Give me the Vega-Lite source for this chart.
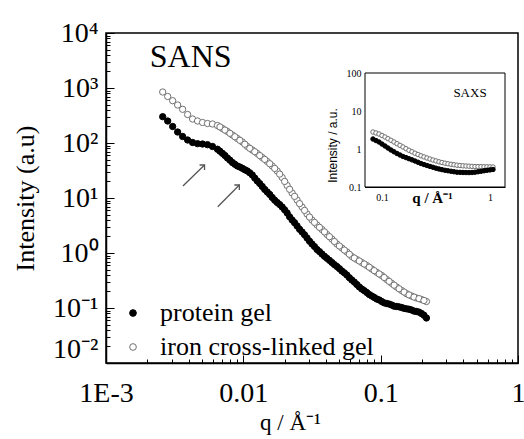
{
  "$schema": "https://vega.github.io/schema/vega-lite/v6.json",
  "width": 412,
  "height": 330,
  "autosize": {"type": "none"},
  "padding": {"left": 106, "top": 33, "right": 6, "bottom": 76},
  "background": "white",
  "datasets": {
    "sans": [
      {"sample": "iron cross-linked gel", "q": 0.002588, "I": 845.9},
      {"sample": "iron cross-linked gel", "q": 0.002813, "I": 700.6},
      {"sample": "iron cross-linked gel", "q": 0.003058, "I": 587.6},
      {"sample": "iron cross-linked gel", "q": 0.003324, "I": 490.9},
      {"sample": "iron cross-linked gel", "q": 0.003613, "I": 410.0},
      {"sample": "iron cross-linked gel", "q": 0.003928, "I": 329.7},
      {"sample": "iron cross-linked gel", "q": 0.004270, "I": 273.2},
      {"sample": "iron cross-linked gel", "q": 0.004641, "I": 251.2},
      {"sample": "iron cross-linked gel", "q": 0.005045, "I": 235.9},
      {"sample": "iron cross-linked gel", "q": 0.005484, "I": 226.2},
      {"sample": "iron cross-linked gel", "q": 0.005961, "I": 221.6},
      {"sample": "iron cross-linked gel", "q": 0.006480, "I": 208.1},
      {"sample": "iron cross-linked gel", "q": 0.007044, "I": 183.5},
      {"sample": "iron cross-linked gel", "q": 0.007656, "I": 161.9},
      {"sample": "iron cross-linked gel", "q": 0.008323, "I": 139.8},
      {"sample": "iron cross-linked gel", "q": 0.009047, "I": 120.7},
      {"sample": "iron cross-linked gel", "q": 0.009834, "I": 104.3},
      {"sample": "iron cross-linked gel", "q": 0.01069, "I": 86.4},
      {"sample": "iron cross-linked gel", "q": 0.01162, "I": 74.6},
      {"sample": "iron cross-linked gel", "q": 0.01263, "I": 64.4},
      {"sample": "iron cross-linked gel", "q": 0.01373, "I": 54.5},
      {"sample": "iron cross-linked gel", "q": 0.01493, "I": 46.1},
      {"sample": "iron cross-linked gel", "q": 0.01623, "I": 38.2},
      {"sample": "iron cross-linked gel", "q": 0.01764, "I": 31.0},
      {"sample": "iron cross-linked gel", "q": 0.01917, "I": 23.6},
      {"sample": "iron cross-linked gel", "q": 0.02084, "I": 16.9},
      {"sample": "iron cross-linked gel", "q": 0.02265, "I": 12.33},
      {"sample": "iron cross-linked gel", "q": 0.02462, "I": 9.20},
      {"sample": "iron cross-linked gel", "q": 0.02677, "I": 6.86},
      {"sample": "iron cross-linked gel", "q": 0.02909, "I": 5.12},
      {"sample": "iron cross-linked gel", "q": 0.03162, "I": 3.98},
      {"sample": "iron cross-linked gel", "q": 0.03438, "I": 3.23},
      {"sample": "iron cross-linked gel", "q": 0.03737, "I": 2.675},
      {"sample": "iron cross-linked gel", "q": 0.04062, "I": 2.17},
      {"sample": "iron cross-linked gel", "q": 0.04415, "I": 1.797},
      {"sample": "iron cross-linked gel", "q": 0.04799, "I": 1.458},
      {"sample": "iron cross-linked gel", "q": 0.05217, "I": 1.233},
      {"sample": "iron cross-linked gel", "q": 0.05671, "I": 1.043},
      {"sample": "iron cross-linked gel", "q": 0.06164, "I": 0.864},
      {"sample": "iron cross-linked gel", "q": 0.06701, "I": 0.762},
      {"sample": "iron cross-linked gel", "q": 0.07284, "I": 0.672},
      {"sample": "iron cross-linked gel", "q": 0.07917, "I": 0.593},
      {"sample": "iron cross-linked gel", "q": 0.08607, "I": 0.512},
      {"sample": "iron cross-linked gel", "q": 0.09355, "I": 0.4457},
      {"sample": "iron cross-linked gel", "q": 0.1017, "I": 0.390},
      {"sample": "iron cross-linked gel", "q": 0.1105, "I": 0.330},
      {"sample": "iron cross-linked gel", "q": 0.1202, "I": 0.2812},
      {"sample": "iron cross-linked gel", "q": 0.1306, "I": 0.2408},
      {"sample": "iron cross-linked gel", "q": 0.1420, "I": 0.2081},
      {"sample": "iron cross-linked gel", "q": 0.1543, "I": 0.1820},
      {"sample": "iron cross-linked gel", "q": 0.1677, "I": 0.1653},
      {"sample": "iron cross-linked gel", "q": 0.1823, "I": 0.1520},
      {"sample": "iron cross-linked gel", "q": 0.1982, "I": 0.1427},
      {"sample": "iron cross-linked gel", "q": 0.2154, "I": 0.1313},
      {"sample": "iron cross-linked gel", "q": 0.006756, "I": 196},
      {"sample": "iron cross-linked gel", "q": 0.007344, "I": 172},
      {"sample": "iron cross-linked gel", "q": 0.007982, "I": 150},
      {"sample": "iron cross-linked gel", "q": 0.008677, "I": 130},
      {"sample": "iron cross-linked gel", "q": 0.009432, "I": 112},
      {"sample": "iron cross-linked gel", "q": 0.010253, "I": 95},
      {"sample": "iron cross-linked gel", "q": 0.011145, "I": 80},
      {"sample": "iron cross-linked gel", "q": 0.012115, "I": 69.5},
      {"sample": "iron cross-linked gel", "q": 0.013168, "I": 59.0},
      {"sample": "iron cross-linked gel", "q": 0.014315, "I": 50.3},
      {"sample": "iron cross-linked gel", "q": 0.015566, "I": 42.0},
      {"sample": "iron cross-linked gel", "q": 0.016921, "I": 34.5},
      {"sample": "iron cross-linked gel", "q": 0.018391, "I": 27.2},
      {"sample": "iron cross-linked gel", "q": 0.019986, "I": 20.0},
      {"sample": "iron cross-linked gel", "q": 0.021728, "I": 14.4},
      {"sample": "iron cross-linked gel", "q": 0.023615, "I": 10.7},
      {"sample": "iron cross-linked gel", "q": 0.025669, "I": 7.9},
      {"sample": "iron cross-linked gel", "q": 0.02791, "I": 5.95},
      {"sample": "iron cross-linked gel", "q": 0.030329, "I": 4.5},
      {"sample": "iron cross-linked gel", "q": 0.032967, "I": 3.6},
      {"sample": "iron cross-linked gel", "q": 0.035844, "I": 2.93},
      {"sample": "iron cross-linked gel", "q": 0.038962, "I": 2.42},
      {"sample": "iron cross-linked gel", "q": 0.04235, "I": 1.98},
      {"sample": "iron cross-linked gel", "q": 0.04603, "I": 1.62},
      {"sample": "iron cross-linked gel", "q": 0.050034, "I": 1.34},
      {"sample": "iron cross-linked gel", "q": 0.054392, "I": 1.13},
      {"sample": "iron cross-linked gel", "q": 0.059125, "I": 0.95},
      {"sample": "iron cross-linked gel", "q": 0.064265, "I": 0.81},
      {"sample": "iron cross-linked gel", "q": 0.069864, "I": 0.716},
      {"sample": "iron cross-linked gel", "q": 0.075942, "I": 0.63},
      {"sample": "iron cross-linked gel", "q": 0.082542, "I": 0.552},
      {"sample": "iron cross-linked gel", "q": 0.089736, "I": 0.478},
      {"sample": "iron cross-linked gel", "q": 0.097534, "I": 0.416},
      {"sample": "iron cross-linked gel", "q": 0.10603, "I": 0.359},
      {"sample": "iron cross-linked gel", "q": 0.11521, "I": 0.305},
      {"sample": "iron cross-linked gel", "q": 0.12532, "I": 0.260},
      {"sample": "iron cross-linked gel", "q": 0.13616, "I": 0.224},
      {"sample": "iron cross-linked gel", "q": 0.14805, "I": 0.195},
      {"sample": "iron cross-linked gel", "q": 0.16087, "I": 0.173},
      {"sample": "iron cross-linked gel", "q": 0.17484, "I": 0.158},
      {"sample": "iron cross-linked gel", "q": 0.19006, "I": 0.148},
      {"sample": "iron cross-linked gel", "q": 0.20664, "I": 0.137},
      {"sample": "protein gel", "q": 0.002588, "I": 300.8},
      {"sample": "protein gel", "q": 0.002813, "I": 251.2},
      {"sample": "protein gel", "q": 0.003058, "I": 199.5},
      {"sample": "protein gel", "q": 0.003324, "I": 158.5},
      {"sample": "protein gel", "q": 0.003613, "I": 131.3},
      {"sample": "protein gel", "q": 0.003928, "I": 113.4},
      {"sample": "protein gel", "q": 0.004270, "I": 102.1},
      {"sample": "protein gel", "q": 0.004641, "I": 97.1},
      {"sample": "protein gel", "q": 0.005045, "I": 95.9},
      {"sample": "protein gel", "q": 0.005484, "I": 93.1},
      {"sample": "protein gel", "q": 0.005961, "I": 86.4},
      {"sample": "protein gel", "q": 0.006480, "I": 77.1},
      {"sample": "protein gel", "q": 0.007044, "I": 65.0},
      {"sample": "protein gel", "q": 0.007656, "I": 53.4},
      {"sample": "protein gel", "q": 0.008323, "I": 44.2},
      {"sample": "protein gel", "q": 0.009047, "I": 38.2},
      {"sample": "protein gel", "q": 0.009834, "I": 34.7},
      {"sample": "protein gel", "q": 0.01069, "I": 31.0},
      {"sample": "protein gel", "q": 0.01162, "I": 26.2},
      {"sample": "protein gel", "q": 0.01263, "I": 20.4},
      {"sample": "protein gel", "q": 0.01373, "I": 16.2},
      {"sample": "protein gel", "q": 0.01493, "I": 12.86},
      {"sample": "protein gel", "q": 0.01623, "I": 10.21},
      {"sample": "protein gel", "q": 0.01764, "I": 8.28},
      {"sample": "protein gel", "q": 0.01917, "I": 6.86},
      {"sample": "protein gel", "q": 0.02084, "I": 5.34},
      {"sample": "protein gel", "q": 0.02265, "I": 3.98},
      {"sample": "protein gel", "q": 0.02462, "I": 3.10},
      {"sample": "protein gel", "q": 0.02677, "I": 2.41},
      {"sample": "protein gel", "q": 0.02909, "I": 1.874},
      {"sample": "protein gel", "q": 0.03162, "I": 1.458},
      {"sample": "protein gel", "q": 0.03438, "I": 1.158},
      {"sample": "protein gel", "q": 0.03737, "I": 0.959},
      {"sample": "protein gel", "q": 0.04062, "I": 0.801},
      {"sample": "protein gel", "q": 0.04415, "I": 0.672},
      {"sample": "protein gel", "q": 0.04799, "I": 0.568},
      {"sample": "protein gel", "q": 0.05217, "I": 0.471},
      {"sample": "protein gel", "q": 0.05671, "I": 0.398},
      {"sample": "protein gel", "q": 0.06164, "I": 0.323},
      {"sample": "protein gel", "q": 0.06701, "I": 0.2675},
      {"sample": "protein gel", "q": 0.07284, "I": 0.2216},
      {"sample": "protein gel", "q": 0.07917, "I": 0.1913},
      {"sample": "protein gel", "q": 0.08607, "I": 0.1653},
      {"sample": "protein gel", "q": 0.09355, "I": 0.1458},
      {"sample": "protein gel", "q": 0.1017, "I": 0.1313},
      {"sample": "protein gel", "q": 0.1105, "I": 0.1207},
      {"sample": "protein gel", "q": 0.1202, "I": 0.1134},
      {"sample": "protein gel", "q": 0.1306, "I": 0.1065},
      {"sample": "protein gel", "q": 0.1420, "I": 0.1021},
      {"sample": "protein gel", "q": 0.1543, "I": 0.0967},
      {"sample": "protein gel", "q": 0.1677, "I": 0.0920},
      {"sample": "protein gel", "q": 0.1823, "I": 0.0864},
      {"sample": "protein gel", "q": 0.1982, "I": 0.0794},
      {"sample": "protein gel", "q": 0.2154, "I": 0.0658},
      {"sample": "protein gel", "q": 0.006756, "I": 71.0},
      {"sample": "protein gel", "q": 0.007344, "I": 59.2},
      {"sample": "protein gel", "q": 0.007982, "I": 48.8},
      {"sample": "protein gel", "q": 0.008677, "I": 41.0},
      {"sample": "protein gel", "q": 0.009432, "I": 36.6},
      {"sample": "protein gel", "q": 0.010253, "I": 32.6},
      {"sample": "protein gel", "q": 0.011145, "I": 28.7},
      {"sample": "protein gel", "q": 0.012115, "I": 23.0},
      {"sample": "protein gel", "q": 0.013168, "I": 18.3},
      {"sample": "protein gel", "q": 0.014315, "I": 14.3},
      {"sample": "protein gel", "q": 0.015566, "I": 11.6},
      {"sample": "protein gel", "q": 0.016921, "I": 9.1},
      {"sample": "protein gel", "q": 0.018391, "I": 7.6},
      {"sample": "protein gel", "q": 0.019986, "I": 6.1},
      {"sample": "protein gel", "q": 0.021728, "I": 4.55},
      {"sample": "protein gel", "q": 0.023615, "I": 3.55},
      {"sample": "protein gel", "q": 0.025669, "I": 2.70},
      {"sample": "protein gel", "q": 0.02791, "I": 2.14},
      {"sample": "protein gel", "q": 0.030329, "I": 1.64},
      {"sample": "protein gel", "q": 0.032967, "I": 1.31},
      {"sample": "protein gel", "q": 0.035844, "I": 1.06},
      {"sample": "protein gel", "q": 0.038962, "I": 0.872},
      {"sample": "protein gel", "q": 0.04235, "I": 0.737},
      {"sample": "protein gel", "q": 0.04603, "I": 0.615},
      {"sample": "protein gel", "q": 0.050034, "I": 0.52},
      {"sample": "protein gel", "q": 0.054392, "I": 0.436},
      {"sample": "protein gel", "q": 0.059125, "I": 0.356},
      {"sample": "protein gel", "q": 0.064265, "I": 0.296},
      {"sample": "protein gel", "q": 0.069864, "I": 0.242},
      {"sample": "protein gel", "q": 0.075942, "I": 0.207},
      {"sample": "protein gel", "q": 0.082542, "I": 0.176},
      {"sample": "protein gel", "q": 0.089736, "I": 0.156},
      {"sample": "protein gel", "q": 0.097534, "I": 0.140},
      {"sample": "protein gel", "q": 0.10603, "I": 0.124},
      {"sample": "protein gel", "q": 0.11521, "I": 0.118},
      {"sample": "protein gel", "q": 0.12532, "I": 0.108},
      {"sample": "protein gel", "q": 0.13616, "I": 0.1048},
      {"sample": "protein gel", "q": 0.14805, "I": 0.0985},
      {"sample": "protein gel", "q": 0.16087, "I": 0.0950},
      {"sample": "protein gel", "q": 0.17484, "I": 0.0880},
      {"sample": "protein gel", "q": 0.19006, "I": 0.0842},
      {"sample": "protein gel", "q": 0.20664, "I": 0.0738}
    ],
    "saxs": [
      {"sample": "iron cross-linked gel", "q": 0.0825, "I": 2.802},
      {"sample": "iron cross-linked gel", "q": 0.08795, "I": 2.64},
      {"sample": "iron cross-linked gel", "q": 0.0938, "I": 2.481},
      {"sample": "iron cross-linked gel", "q": 0.1000, "I": 2.27},
      {"sample": "iron cross-linked gel", "q": 0.1066, "I": 2.069},
      {"sample": "iron cross-linked gel", "q": 0.1136, "I": 1.87},
      {"sample": "iron cross-linked gel", "q": 0.1211, "I": 1.694},
      {"sample": "iron cross-linked gel", "q": 0.1291, "I": 1.53},
      {"sample": "iron cross-linked gel", "q": 0.1377, "I": 1.379},
      {"sample": "iron cross-linked gel", "q": 0.1468, "I": 1.25},
      {"sample": "iron cross-linked gel", "q": 0.1565, "I": 1.129},
      {"sample": "iron cross-linked gel", "q": 0.1668, "I": 1.02},
      {"sample": "iron cross-linked gel", "q": 0.1778, "I": 0.924},
      {"sample": "iron cross-linked gel", "q": 0.1896, "I": 0.846},
      {"sample": "iron cross-linked gel", "q": 0.2021, "I": 0.775},
      {"sample": "iron cross-linked gel", "q": 0.2155, "I": 0.717},
      {"sample": "iron cross-linked gel", "q": 0.2297, "I": 0.663},
      {"sample": "iron cross-linked gel", "q": 0.2449, "I": 0.62},
      {"sample": "iron cross-linked gel", "q": 0.2610, "I": 0.580},
      {"sample": "iron cross-linked gel", "q": 0.2783, "I": 0.545},
      {"sample": "iron cross-linked gel", "q": 0.2966, "I": 0.513},
      {"sample": "iron cross-linked gel", "q": 0.3162, "I": 0.486},
      {"sample": "iron cross-linked gel", "q": 0.3372, "I": 0.4605},
      {"sample": "iron cross-linked gel", "q": 0.3595, "I": 0.441},
      {"sample": "iron cross-linked gel", "q": 0.3831, "I": 0.423},
      {"sample": "iron cross-linked gel", "q": 0.4084, "I": 0.409},
      {"sample": "iron cross-linked gel", "q": 0.4355, "I": 0.396},
      {"sample": "iron cross-linked gel", "q": 0.4643, "I": 0.385},
      {"sample": "iron cross-linked gel", "q": 0.4948, "I": 0.375},
      {"sample": "iron cross-linked gel", "q": 0.5275, "I": 0.368},
      {"sample": "iron cross-linked gel", "q": 0.5623, "I": 0.361},
      {"sample": "iron cross-linked gel", "q": 0.5995, "I": 0.357},
      {"sample": "iron cross-linked gel", "q": 0.6391, "I": 0.353},
      {"sample": "iron cross-linked gel", "q": 0.6813, "I": 0.349},
      {"sample": "iron cross-linked gel", "q": 0.7263, "I": 0.346},
      {"sample": "iron cross-linked gel", "q": 0.7743, "I": 0.344},
      {"sample": "iron cross-linked gel", "q": 0.8254, "I": 0.342},
      {"sample": "iron cross-linked gel", "q": 0.8800, "I": 0.341},
      {"sample": "iron cross-linked gel", "q": 0.9380, "I": 0.340},
      {"sample": "iron cross-linked gel", "q": 1.0000, "I": 0.338},
      {"sample": "iron cross-linked gel", "q": 1.066, "I": 0.336},
      {"sample": "protein gel", "q": 0.0825, "I": 1.833},
      {"sample": "protein gel", "q": 0.08795, "I": 1.67},
      {"sample": "protein gel", "q": 0.0938, "I": 1.529},
      {"sample": "protein gel", "q": 0.1000, "I": 1.35},
      {"sample": "protein gel", "q": 0.1066, "I": 1.199},
      {"sample": "protein gel", "q": 0.1136, "I": 1.06},
      {"sample": "protein gel", "q": 0.1211, "I": 0.941},
      {"sample": "protein gel", "q": 0.1291, "I": 0.845},
      {"sample": "protein gel", "q": 0.1377, "I": 0.761},
      {"sample": "protein gel", "q": 0.1468, "I": 0.695},
      {"sample": "protein gel", "q": 0.1565, "I": 0.635},
      {"sample": "protein gel", "q": 0.1668, "I": 0.594},
      {"sample": "protein gel", "q": 0.1778, "I": 0.556},
      {"sample": "protein gel", "q": 0.1896, "I": 0.518},
      {"sample": "protein gel", "q": 0.2021, "I": 0.483},
      {"sample": "protein gel", "q": 0.2155, "I": 0.448},
      {"sample": "protein gel", "q": 0.2297, "I": 0.415},
      {"sample": "protein gel", "q": 0.2449, "I": 0.39},
      {"sample": "protein gel", "q": 0.2610, "I": 0.368},
      {"sample": "protein gel", "q": 0.2783, "I": 0.348},
      {"sample": "protein gel", "q": 0.2966, "I": 0.330},
      {"sample": "protein gel", "q": 0.3162, "I": 0.313},
      {"sample": "protein gel", "q": 0.3372, "I": 0.298},
      {"sample": "protein gel", "q": 0.3595, "I": 0.286},
      {"sample": "protein gel", "q": 0.3831, "I": 0.275},
      {"sample": "protein gel", "q": 0.4084, "I": 0.267},
      {"sample": "protein gel", "q": 0.4355, "I": 0.259},
      {"sample": "protein gel", "q": 0.4643, "I": 0.252},
      {"sample": "protein gel", "q": 0.4948, "I": 0.245},
      {"sample": "protein gel", "q": 0.5275, "I": 0.243},
      {"sample": "protein gel", "q": 0.5623, "I": 0.241},
      {"sample": "protein gel", "q": 0.5995, "I": 0.240},
      {"sample": "protein gel", "q": 0.6391, "I": 0.239},
      {"sample": "protein gel", "q": 0.6813, "I": 0.241},
      {"sample": "protein gel", "q": 0.7263, "I": 0.245},
      {"sample": "protein gel", "q": 0.7743, "I": 0.252},
      {"sample": "protein gel", "q": 0.8254, "I": 0.259},
      {"sample": "protein gel", "q": 0.8800, "I": 0.267},
      {"sample": "protein gel", "q": 0.9380, "I": 0.275},
      {"sample": "protein gel", "q": 1.0000, "I": 0.282},
      {"sample": "protein gel", "q": 1.066, "I": 0.289}
    ],
    "arrows": [
      {"q": 0.003632, "I": 16.52, "q2": 0.005218, "I2": 39.81},
      {"q": 0.006514, "I": 6.946, "q2": 0.009354, "I2": 17.23}
    ]
  },
  "layer": [
    {
      "data": {"name": "sans"},
      "mark": {"type": "point", "filled": true, "size": 40, "strokeWidth": 1, "opacity": 1},
      "encoding": {
        "x": {
          "field": "q", "type": "quantitative",
          "scale": {"type": "log", "domain": [0.001, 1], "nice": false},
          "axis": {
            "orient": "bottom",
            "title": "q  / Å⁻¹",
            "values": [0.001, 0.01, 0.1, 1],
            "labelExpr": "['1E-3','0.01','0.1','1'][round(log(datum.value)/LN10) + 3]",
            "tickSize": -8,
            "labelPadding": 24,
            "labelFont": "Liberation Serif",
            "labelFontSize": 28,
            "titleFont": "Liberation Serif",
            "titleFontSize": 23,
            "titleX": 184,
            "titleY": 48,
            "titleAlign": "center",
            "titleBaseline": "top",
            "domainWidth": 1.5
          }
        },
        "y": {
          "field": "I", "type": "quantitative",
          "scale": {"type": "log", "domain": [0.01, 10000], "nice": false},
          "axis": {
            "orient": "left",
            "title": "Intensity (a.u)",
            "values": [0.1, 1, 10, 100, 1000, 10000],
            "labelExpr": "['10⁻²','10⁻¹','10⁰','10¹','10²','10³','10⁴'][round(log(datum.value)/LN10) + 2]",
            "tickSize": -8,
            "labelPadding": 16,
            "labelFont": "Liberation Serif",
            "labelFontSize": 28,
            "titleFont": "Liberation Serif",
            "titleFontSize": 26,
            "titleX": -81,
            "titleY": 165,
            "titleBaseline": "middle",
            "titleAlign": "center",
            "domainWidth": 1.5
          }
        },
        "fill": {
          "field": "sample", "type": "nominal",
          "scale": {"domain": ["protein gel", "iron cross-linked gel"], "range": ["black", "white"]},
          "legend": {"title": null, "orient": "none", "legendX": 14, "legendY": 267, "labelFont": "Liberation Serif", "labelFontSize": 26, "labelColor": "black", "symbolSize": 45, "rowPadding": 8, "labelOffset": 14, "symbolStrokeWidth": 1, "labelLimit": 400}
        },
        "stroke": {
          "field": "sample", "type": "nominal",
          "scale": {"domain": ["protein gel", "iron cross-linked gel"], "range": ["black", "#707070"]},
          "legend": {"title": null, "orient": "none", "legendX": 14, "legendY": 267, "labelFont": "Liberation Serif", "labelFontSize": 26, "labelColor": "black", "symbolSize": 45, "rowPadding": 8, "labelOffset": 14, "symbolStrokeWidth": 1, "labelLimit": 400}
        }
      }
    },
    {
      "data": {"name": "arrows"},
      "mark": {"type": "rule", "color": "#555555", "strokeWidth": 1.3},
      "encoding": {
        "x": {
          "field": "q", "type": "quantitative",
          "scale": {"type": "log", "domain": [0.001, 1], "nice": false},
          "axis": {"orient": "bottom", "values": [0.002, 0.003, 0.004, 0.005, 0.006, 0.007, 0.008, 0.009, 0.02, 0.03, 0.04, 0.05, 0.06, 0.07, 0.08, 0.09, 0.2, 0.3, 0.4, 0.5, 0.6, 0.7, 0.8, 0.9], "labels": false, "domain": false, "title": null, "tickSize": -4, "tickColor": "black"}
        },
        "y": {
          "field": "I", "type": "quantitative",
          "scale": {"type": "log", "domain": [0.01, 10000], "nice": false},
          "axis": {"orient": "left", "values": [0.02, 0.03, 0.04, 0.05, 0.06, 0.07, 0.08, 0.09, 0.2, 0.3, 0.4, 0.5, 0.6, 0.7, 0.8, 0.9, 2, 3, 4, 5, 6, 7, 8, 9, 20, 30, 40, 50, 60, 70, 80, 90, 200, 300, 400, 500, 600, 700, 800, 900, 2000, 3000, 4000, 5000, 6000, 7000, 8000, 9000], "labels": false, "domain": false, "title": null, "tickSize": -4, "tickColor": "black"}
        },
        "x2": {"field": "q2"},
        "y2": {"field": "I2"}
      }
    },
    {
      "data": {"name": "arrows"},
      "mark": {"type": "point", "shape": "M -1 1 L 0 0 L 1 1", "angle": 45, "size": 50, "filled": false, "stroke": "#555555", "strokeWidth": 1.3, "opacity": 1},
      "encoding": {
        "x": {"field": "q2", "type": "quantitative", "scale": {"type": "log", "domain": [0.001, 1], "nice": false}, "axis": null},
        "y": {"field": "I2", "type": "quantitative", "scale": {"type": "log", "domain": [0.01, 10000], "nice": false}, "axis": null}
      }
    },
    {
      "data": {"values": [{"label": "SANS", "q": 0.002084, "I": 2409}]},
      "mark": {"type": "text", "font": "Liberation Serif", "fontSize": 32, "align": "left", "baseline": "alphabetic", "color": "black"},
      "encoding": {
        "x": {"field": "q", "type": "quantitative", "scale": {"type": "log", "domain": [0.001, 1], "nice": false}, "axis": null},
        "y": {
          "field": "I", "type": "quantitative",
          "scale": {"type": "log", "domain": [0.01, 10000], "nice": false},
          "axis": {"orient": "left", "values": [0.01], "labelExpr": "'10⁻²'", "labelBaseline": "bottom", "tickSize": -8, "labelPadding": 16, "labelFont": "Liberation Serif", "labelFontSize": 28, "labelColor": "black", "domain": false, "title": null}
        },
        "text": {"field": "label"}
      }
    },
    {
      "data": {"values": [{"q0": 0.0696, "q1": 1.377, "I0": 0.1, "I1": 100}]},
      "mark": {"type": "rect", "fill": "white", "stroke": "black", "strokeWidth": 1},
      "encoding": {
        "x": {
          "field": "q0", "type": "quantitative",
          "scale": {"type": "log", "domain": [0.0696, 1.377], "range": [259, 399], "nice": false},
          "axis": {"orient": "bottom", "offset": -176, "values": [0.07, 0.08, 0.09, 0.2, 0.3, 0.4, 0.5, 0.6, 0.7, 0.8, 0.9], "labels": false, "domain": false, "title": null, "tickSize": -2, "tickColor": "black"}
        },
        "x2": {"field": "q1"},
        "y": {
          "field": "I0", "type": "quantitative",
          "scale": {"type": "log", "domain": [0.1, 100], "range": [154, 40], "nice": false},
          "axis": {"orient": "left", "offset": -259, "values": [0.2, 0.3, 0.4, 0.5, 0.6, 0.7, 0.8, 0.9, 2, 3, 4, 5, 6, 7, 8, 9, 20, 30, 40, 50, 60, 70, 80, 90], "labels": false, "domain": false, "title": null, "tickSize": -2, "tickColor": "black"}
        },
        "y2": {"field": "I1"}
      }
    },
    {
      "data": {"name": "saxs"},
      "mark": {"type": "point", "filled": true, "size": 20, "strokeWidth": 1, "opacity": 1},
      "encoding": {
        "x": {
          "field": "q", "type": "quantitative",
          "scale": {"type": "log", "domain": [0.0696, 1.377], "range": [259, 399], "nice": false},
          "axis": {
            "orient": "bottom",
            "offset": -176,
            "title": "q / Å⁻¹",
            "values": [0.1, 1],
            "labelExpr": "datum.value < 0.5 ? '0.1' : '1'",
            "tickSize": -4,
            "labelPadding": 9,
            "labelFont": "Liberation Serif",
            "labelFontSize": 10,
            "titleFont": "Liberation Serif",
            "titleFontSize": 15,
            "titleFontWeight": "bold",
            "titleX": 326,
            "titleY": 3,
            "titleBaseline": "top",
            "domainWidth": 1
          }
        },
        "y": {
          "field": "I", "type": "quantitative",
          "scale": {"type": "log", "domain": [0.1, 100], "range": [154, 40], "nice": false},
          "axis": {
            "orient": "left",
            "offset": -259,
            "title": "Intensity / a.u.",
            "values": [0.1, 1, 10, 100],
            "labelExpr": "['0.1','1','10','100'][round(log(datum.value)/LN10) + 1]",
            "tickSize": -4,
            "labelPadding": 8,
            "labelFont": "Liberation Serif",
            "labelFontSize": 10,
            "titleFont": "Liberation Sans",
            "titleFontSize": 12,
            "titleX": -33,
            "titleY": 112,
            "titleBaseline": "middle",
            "titleAlign": "center",
            "domainWidth": 1
          }
        },
        "fill": {
          "field": "sample", "type": "nominal",
          "scale": {"domain": ["protein gel", "iron cross-linked gel"], "range": ["black", "white"]},
          "legend": {"title": null, "orient": "none", "legendX": 14, "legendY": 267, "labelFont": "Liberation Serif", "labelFontSize": 26, "labelColor": "black", "symbolSize": 45, "rowPadding": 8, "labelOffset": 14, "symbolStrokeWidth": 1, "labelLimit": 400}
        },
        "stroke": {
          "field": "sample", "type": "nominal",
          "scale": {"domain": ["protein gel", "iron cross-linked gel"], "range": ["black", "#707070"]},
          "legend": {"title": null, "orient": "none", "legendX": 14, "legendY": 267, "labelFont": "Liberation Serif", "labelFontSize": 26, "labelColor": "black", "symbolSize": 45, "rowPadding": 8, "labelOffset": 14, "symbolStrokeWidth": 1, "labelLimit": 400}
        }
      }
    },
    {
      "data": {"values": [{"label": "SAXS", "q": 0.653, "I": 23.4}]},
      "mark": {"type": "text", "font": "Liberation Serif", "fontSize": 13, "align": "center", "baseline": "alphabetic", "color": "black"},
      "encoding": {
        "x": {"field": "q", "type": "quantitative", "scale": {"type": "log", "domain": [0.0696, 1.377], "range": [259, 399], "nice": false}, "axis": null},
        "y": {"field": "I", "type": "quantitative", "scale": {"type": "log", "domain": [0.1, 100], "range": [154, 40], "nice": false}, "axis": null},
        "text": {"field": "label"}
      }
    }
  ],
  "resolve": {"scale": {"x": "independent", "y": "independent"}, "axis": {"x": "independent", "y": "independent"}},
  "config": {
    "view": {"stroke": "black", "strokeWidth": 1.5},
    "axis": {
      "domainColor": "black",
      "tickColor": "black",
      "tickWidth": 1,
      "labelColor": "black",
      "titleColor": "black",
      "labelFont": "Liberation Serif",
      "titleFont": "Liberation Serif",
      "titleFontWeight": "normal",
      "grid": false,
      "labelOverlap": false,
      "labelFlush": false,
      "labelBound": false
    }
  }
}
